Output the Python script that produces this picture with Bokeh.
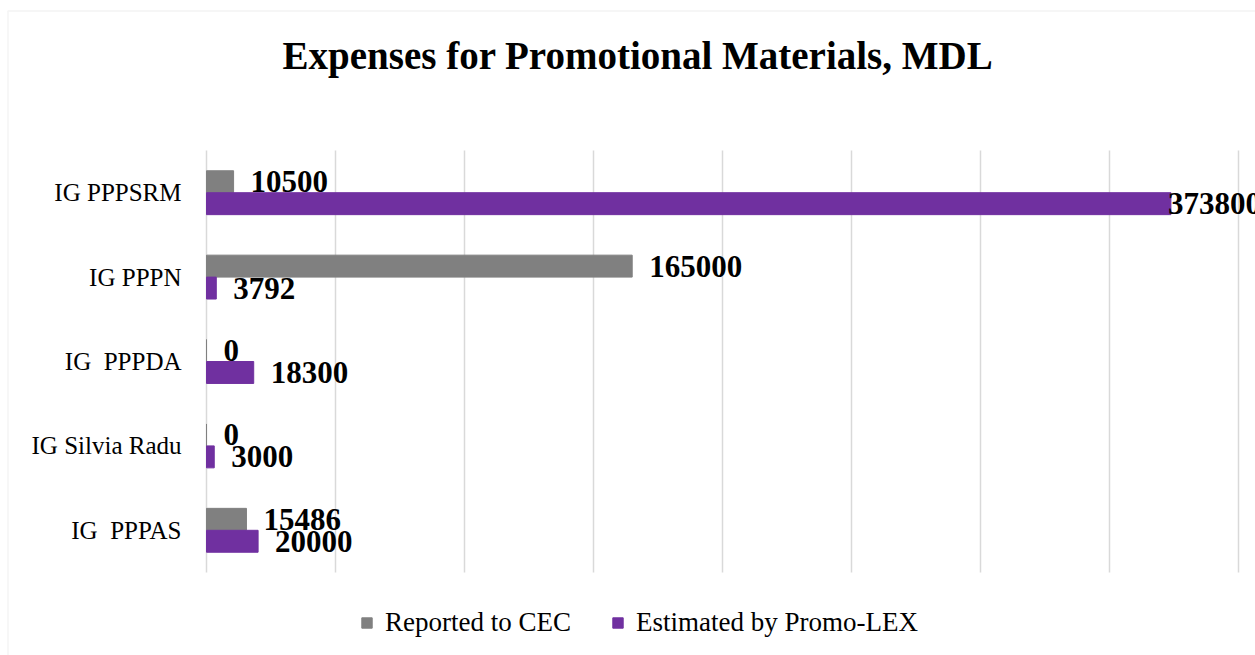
from bokeh.plotting import figure
from bokeh.models import (ColumnDataSource, Range1d, Legend, LegendItem, CDSView,
                          BooleanFilter, Label, BoxAnnotation)
from bokeh.transform import dodge
from bokeh.core.properties import value
from bokeh.embed import file_html
from bokeh.resources import INLINE

categories = ["IG PPPSRM", "IG PPPN", "IG \u00a0PPPDA", "IG Silvia Radu", "IG \u00a0PPPAS"]
reported = [10500, 165000, 0, 0, 15486]
estimated = [373800, 3792, 18300, 3000, 20000]
grid_ticks = [0, 50000, 100000, 150000, 200000, 250000, 300000, 350000, 400000]
series_names = ["Reported to CEC", "Estimated by Promo-LEX"]
title_text = "Expenses for Promotional Materials, MDL"

GRAY = "#808080"
PURPLE = "#7030A0"
GRID = "#d9d9d9"
FONT = "Liberation Serif"

W, H = 1255, 655
PLOT_LEFT, PLOT_TOP, PLOT_BOTTOM = 206, 150, 572   # pixel extent of the bar area
AXIS_MAX = 400000
AXIS_PX = 1032                                       # pixels for 0..AXIS_MAX

n = len(categories)
ypos = [n - 1 - i for i in range(n)]                 # first category on top
unit_px = (PLOT_BOTTOM - PLOT_TOP) / n
x_per_px = AXIS_MAX / AXIS_PX

src = ColumnDataSource(dict(
    cat=categories, y=ypos,
    rep=reported, est=estimated,
    rep_lbl=[str(v) for v in reported],
    est_lbl=[str(v) for v in estimated],
))

p = figure(
    width=W, height=H,
    x_range=Range1d(-PLOT_LEFT * x_per_px, (W - PLOT_LEFT) * x_per_px),
    y_range=Range1d(-0.5 - (H - PLOT_BOTTOM) / unit_px, n - 0.5 + PLOT_TOP / unit_px),
    x_axis_location=None, y_axis_location=None,
    output_backend="svg", toolbar_location=None,
    min_border=0,
)
p.outline_line_color = None
p.grid.visible = False

# vertical gridlines over the category band
p.segment(x0=grid_ticks, x1=grid_ticks, y0=[-0.5] * len(grid_ticks),
          y1=[n - 0.5] * len(grid_ticks), line_color=GRID, line_width=1.5)

r1 = p.hbar(y=dodge("y", 0.13), right="rep", height=0.26, left=0, color=GRAY, source=src)
r2 = p.hbar(y=dodge("y", -0.13), right="est", height=0.26, left=0, color=PURPLE, source=src)

LIMIT = 350000
for col, lbl, off, vals in (("rep", "rep_lbl", 0.13, reported), ("est", "est_lbl", -0.13, estimated)):
    fits = [v < LIMIT for v in vals]
    for mask, xoff in ((fits, 17), ([not f for f in fits], -3)):
        if not any(mask):
            continue
        p.text(x=col, y=dodge("y", off), text=lbl,
               x_offset=xoff, text_align="left", text_baseline="middle",
               text_font=value(FONT), text_font_style="bold", text_font_size="31px",
               text_color="black", source=src, view=CDSView(filter=BooleanFilter(mask)))

# category labels (left of the bar area)
p.text(x=0, y="y", text="cat", x_offset=-25, text_align="right", text_baseline="middle",
       text_font=value(FONT), text_font_size="25px", text_color="black", source=src)

p.add_layout(Label(x=637.5, y=H - 55, x_units="screen", y_units="screen", text=title_text,
                   text_align="center", text_baseline="alphabetic", text_font=FONT,
                   text_font_size="39px", text_font_style="bold", text_color="black"))

p.add_layout(BoxAnnotation(left=7.5, right=W + 50, top=H - 10.5, bottom=-50,
                           left_units="screen", right_units="screen",
                           top_units="screen", bottom_units="screen",
                           fill_alpha=0, line_color=GRID, line_width=1.5))

legend = Legend(items=[LegendItem(label=series_names[0], renderers=[r1]),
                       LegendItem(label=series_names[1], renderers=[r2])],
                orientation="horizontal", location=(360, 17))
legend.label_text_font = FONT
legend.label_text_font_size = "27px"
legend.label_text_color = "black"
legend.glyph_width = 13
legend.glyph_height = 13
legend.label_standoff = 12
legend.spacing = 40
legend.padding = 0
legend.margin = 0
legend.border_line_color = None
legend.background_fill_alpha = 0
p.add_layout(legend)

open("out.html", "w").write(file_html(p, INLINE))
